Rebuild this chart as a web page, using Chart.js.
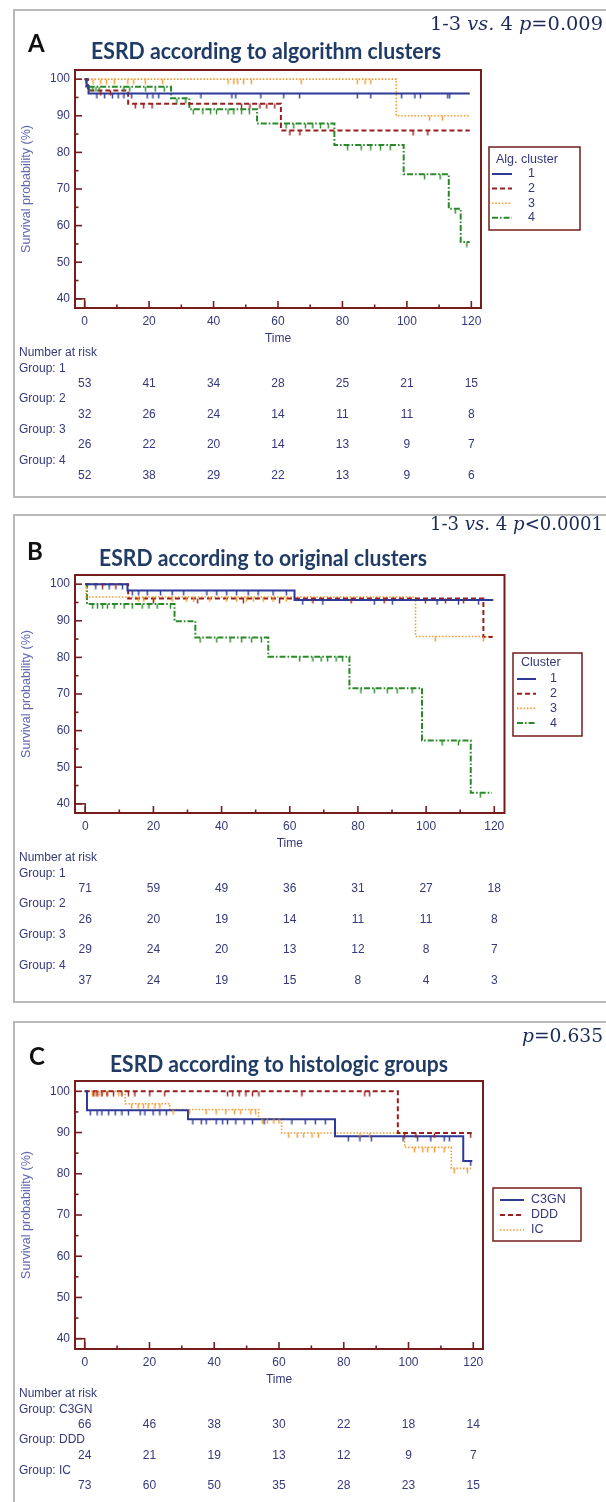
<!DOCTYPE html>
<html><head><meta charset="utf-8">
<script src="https://cdn.jsdelivr.net/npm/chart.js@4.4.1/dist/chart.umd.min.js"></script>
<style>
html,body{margin:0;padding:0;background:#fff;}
#wrap{position:relative;width:606px;height:1502px;overflow:hidden;background:#fff;}
canvas{position:absolute;left:0;}
</style></head><body>
<div id="wrap">
<canvas id="cA" width="606" height="505" style="top:0px"></canvas>
<canvas id="cB" width="606" height="507" style="top:505px"></canvas>
<canvas id="cC" width="606" height="490" style="top:1012px"></canvas>
</div>
<script>
// ---------- shared axis ticks ----------
const timeTicks = [0, 20, 40, 60, 80, 100, 120];
const timeMinor = [10, 30, 50, 70, 90, 110];
const survTicks = [40, 50, 60, 70, 80, 90, 100];
const survMinor = [45, 55, 65, 75, 85, 95];

// ---------- Panel A : algorithm clusters ----------
const aTitle = 'ESRD according to algorithm clusters';
const aP = [['1-3 ', false], ['vs.', true], [' 4 ', false], ['p', true], ['=0.009', false]];
const aLegendTitle = 'Alg. cluster';
const aGroups = ['1', '2', '3', '4'];
const a1Times = [0, 0.6, 1.2, 119.5];
const a1Surv  = [100, 98.1, 96.1, 96.1];
const a1Cens  = [3.8, 6.2, 8.6, 10.4, 12.2, 14.6, 19.4, 21.2, 23, 36.1, 45.7, 46.9, 54.7, 61.8, 66.7, 84.6, 88.8, 98.4, 102.5, 104.2, 112.7, 113.3];
const a2Times = [0, 1, 13.5, 60.9, 119.5];
const a2Surv  = [100, 96.9, 93.3, 86.0, 86.0];
const a2Cens  = [5, 8, 15.7, 18.3, 20.9, 48.7, 51.3, 54.4, 56.5, 59, 63.7, 66.8, 101.9, 106.5];
const a3Times = [0, 96.7, 119.5];
const a3Surv  = [100, 90.0, 90.0];
const a3Cens  = [2.6, 5, 6.8, 9.2, 13.4, 15.2, 18.8, 24.2, 44.5, 46.3, 47.5, 49.3, 51.7, 67.2, 84.6, 87, 88.8, 107, 111];
const a4Times = [0, 0.5, 26.8, 32.5, 53.5, 77.5, 99, 113, 116.7, 119.5];
const a4Surv  = [100, 97.9, 94.8, 91.8, 87.9, 82.0, 74.0, 64.6, 55.5, 55.5];
const a4Cens  = [1.5, 2.5, 3.5, 4.5, 12.2, 14, 18.9, 21.9, 24.7, 28.6, 31.4, 33.7, 36.7, 39.1, 40.9, 44.5, 46.3, 48.7, 51.1, 62.5, 64.9, 68.5, 70.8, 73.2, 75.6, 81.6, 85.8, 88.8, 91.8, 94.8, 105.5, 110.3, 115, 118.6];
const aRiskLabels = ['Group: 1', 'Group: 2', 'Group: 3', 'Group: 4'];
const aRisk1 = [53, 41, 34, 28, 25, 21, 15];
const aRisk2 = [32, 26, 24, 14, 11, 11, 8];
const aRisk3 = [26, 22, 20, 14, 13, 9, 7];
const aRisk4 = [52, 38, 29, 22, 13, 9, 6];

// ---------- Panel B : original clusters ----------
const bTitle = 'ESRD according to original clusters';
const bP = [['1-3 ', false], ['vs.', true], [' 4 ', false], ['p', true], ['<0.0001', false]];
const bLegendTitle = 'Cluster';
const bGroups = ['1', '2', '3', '4'];
const b1Times = [0, 12.4, 61.4, 119.7];
const b1Surv  = [100, 98.3, 95.7, 95.7];
const b1Cens  = [3.1, 7, 10.9, 13.8, 15.7, 18.2, 22.1, 25.5, 28.9, 35.7, 38.6, 41.5, 44.4, 47.8, 50.7, 55.1, 59, 63.8, 69.7, 84.8, 90.1, 103.2, 109.5, 115.4];
const b2Times = [0, 12.6, 116.8, 119.5];
const b2Surv  = [100, 96.1, 85.6, 85.6];
const b2Cens  = [5.1, 9, 20, 33, 46.4, 57, 66.8, 78, 87.7, 99.8, 105.7, 111];
const b3Times = [0, 0.3, 96.9, 119.8];
const b3Surv  = [100, 96.5, 85.7, 85.7];
const b3Cens  = [15.7, 17.2, 20.1, 25.5, 29.8, 31.8, 36.6, 41.5, 44.4, 47.3, 49.3, 52.2, 55.1, 59, 102.7, 116.8];
const b4Times = [0, 0.5, 26.2, 32.3, 53.7, 77.5, 98.8, 113.1, 119.3];
const b4Surv  = [100, 94.6, 89.9, 85.4, 80.2, 71.6, 57.3, 43.0, 43.0];
const b4Cens  = [2.2, 3.6, 5.1, 6.5, 8.5, 11.4, 13.8, 16.7, 18.7, 21.1, 25, 33.7, 38.6, 42.5, 45.9, 48.8, 51.7, 62.9, 66.8, 69.2, 71.1, 73.6, 75.5, 80.9, 84.8, 88.6, 91.5, 95.9, 104.7, 109.5, 115.9];
const bRiskLabels = ['Group: 1', 'Group: 2', 'Group: 3', 'Group: 4'];
const bRisk1 = [71, 59, 49, 36, 31, 27, 18];
const bRisk2 = [26, 20, 19, 14, 11, 11, 8];
const bRisk3 = [29, 24, 20, 13, 12, 8, 7];
const bRisk4 = [37, 24, 19, 15, 8, 4, 3];

// ---------- Panel C : histologic groups ----------
const cTitle = 'ESRD according to histologic groups';
const cP = [['p', true], ['=0.635', false]];
const cGroups = ['C3GN', 'DDD', 'IC'];
const c1Times = [0, 0.7, 31.9, 77.3, 116.9, 119.7];
const c1Surv  = [100, 95.4, 93.2, 89.1, 83.1, 83.1];
const c1Cens  = [1.7, 3.8, 5.3, 7.4, 9.4, 11.5, 13.5, 17.1, 18.6, 21.1, 23.2, 25.2, 33.4, 36, 37.5, 40.6, 42.6, 44.1, 46.7, 49.2, 51.8, 55.4, 64, 68.1, 71.2, 74.3, 81.4, 85, 88.5, 98.3, 102.8, 106.9, 111, 112.6, 119.2];
const c2Times = [0, 96.7, 119.5];
const c2Surv  = [100, 89.9, 89.9];
const c2Cens  = [2.8, 3.8, 5.3, 6.9, 8.9, 11.5, 13.5, 15.5, 20.1, 24.7, 44.1, 45.7, 47.7, 49.8, 51.8, 53.8, 67.1, 86.5, 88, 98.8, 102.3, 108, 119.2];
const c3Times = [0, 12.5, 26.3, 53.7, 60.8, 98.8, 113.2, 119.5];
const c3Surv  = [100, 97.0, 95.6, 93.3, 89.9, 86.4, 81.3, 81.3];
const c3Cens  = [2.4, 3.4, 4.4, 5.4, 6.9, 10.5, 14.5, 16.5, 18.1, 19.6, 21.7, 23.2, 27.3, 32.4, 37.5, 40.6, 43.6, 46.2, 48.2, 51.3, 52.8, 54.8, 56.4, 58.4, 60, 63, 65.6, 67.6, 70.2, 72.2, 85, 88, 101.8, 104.4, 105.9, 108, 111, 114.1, 118.2];
const cRiskLabels = ['Group: C3GN', 'Group: DDD', 'Group: IC'];
const cRisk1 = [66, 46, 38, 30, 22, 18, 14];
const cRisk2 = [24, 21, 19, 13, 12, 9, 7];
const cRisk3 = [73, 60, 50, 35, 28, 23, 15];

// ---------- styles ----------
const BLUE = '#2e3a96', RED = '#9a1e1e', ORANGE = '#f59a2e', GREEN = '#2a8a2a';
const FRAME = '#761c1c', BOXGRAY = '#b9b9b9';
const NAVY = '#35387a', AXTITLE = '#6066b4', TITLECOL = '#1f3b66', PCOL = '#1c2a5a';
const SANS = '"Liberation Sans", Arial, sans-serif';
const lineStyles = [
  {color: BLUE, width: 2, dash: []},
  {color: RED, width: 2, dash: [5, 3]},
  {color: ORANGE, width: 1.6, dash: [1.5, 1.8]},
  {color: GREEN, width: 2, dash: [6, 2, 1.6, 2]}
];

function stepAt(times, surv, t) {
  let v = surv[0];
  for (let i = 0; i < times.length; i++) if (times[i] <= t) v = surv[i];
  return v;
}
function tickImg(color) {
  const c = document.createElement('canvas');
  c.width = 3; c.height = 11;
  const g = c.getContext('2d');
  g.strokeStyle = color; g.lineWidth = 1.4;
  g.beginPath(); g.moveTo(1.5, 5.5); g.lineTo(1.5, 10.5); g.stroke();
  return c;
}

function makeChart(id, cfg) {
  const canvas = document.getElementById(id);
  const H = canvas.height;
  const datasets = [];
  cfg.series.forEach((s, i) => {
    const st = lineStyles[i];
    datasets.push({
      type: 'line', label: s.label,
      data: s.times.map((t, k) => ({x: t, y: s.surv[k]})),
      stepped: true, borderColor: st.color, borderWidth: st.width, borderDash: st.dash,
      pointRadius: 0, fill: false, tension: 0, order: 2
    });
  });
  cfg.series.forEach((s, i) => {
    const st = lineStyles[i];
    datasets.push({
      type: 'scatter', label: s.label + ' censored',
      data: s.cens.map(t => ({x: t, y: stepAt(s.times, s.surv, t)})),
      pointStyle: tickImg(st.color), pointRadius: 5, showLine: false, order: 1
    });
  });
  const xAxisH = 38.2;
  const yAxisW = 75 - 14;
  const plugin = {
    id: 'panel' + id,
    beforeDraw(chart) {
      const ctx = chart.ctx;
      ctx.save();
      ctx.fillStyle = '#fff'; ctx.fillRect(0, 0, chart.width, chart.height);
      ctx.strokeStyle = BOXGRAY; ctx.lineWidth = 2;
      ctx.strokeRect(cfg.box.x, cfg.box.y, cfg.box.w, cfg.box.h);
      ctx.restore();
    },
    afterDraw(chart) {
      const ctx = chart.ctx, a = chart.chartArea, xs = chart.scales.x, ys = chart.scales.y;
      ctx.save();
      // frame
      ctx.strokeStyle = FRAME; ctx.lineWidth = 2;
      ctx.strokeRect(a.left, a.top, a.right - a.left, a.bottom - a.top);
      // little corner box
      const x0 = xs.getPixelForValue(0), y40 = ys.getPixelForValue(40);
      ctx.lineWidth = 1.5;
      ctx.strokeRect(a.left, y40, x0 - a.left, a.bottom - y40);
      // inward ticks
      const seg = (x1, y1, x2, y2) => { ctx.beginPath(); ctx.moveTo(x1, y1); ctx.lineTo(x2, y2); ctx.stroke(); };
      ctx.lineWidth = 1.6;
      timeTicks.forEach(v => { const x = xs.getPixelForValue(v); seg(x, a.bottom, x, a.bottom - 7); });
      timeMinor.forEach(v => { const x = xs.getPixelForValue(v); seg(x, a.bottom, x, a.bottom - 3.5); });
      survTicks.forEach(v => { const y = ys.getPixelForValue(v); seg(a.left, y, a.left + 7, y); });
      survMinor.forEach(v => { const y = ys.getPixelForValue(v); seg(a.left, y, a.left + 3.5, y); });
      // panel letter
      ctx.fillStyle = '#111'; ctx.font = 'bold 24px Lato, sans-serif';
      ctx.textBaseline = 'middle'; ctx.textAlign = 'left';
      ctx.fillText(cfg.letter, cfg.letterPos.x, cfg.letterPos.y);
      // title (Calibri-like, fitted)
      ctx.font = 'bold 22px Lato, sans-serif';
      const tw = ctx.measureText(cfg.title).width;
      const sx = (cfg.titlePos.x1 - cfg.titlePos.x0) / tw;
      ctx.fillStyle = TITLECOL;
      ctx.save(); ctx.translate(cfg.titlePos.x0, cfg.titlePos.y); ctx.scale(sx, 1);
      ctx.fillText(cfg.title, 0, 0); ctx.restore();
      // p value
      const pf = (it) => (it ? 'italic ' : '') + '19px "DejaVu Serif", serif';
      let pw = 0;
      cfg.p.forEach(([t, it]) => { ctx.font = pf(it); pw += ctx.measureText(t).width; });
      const psx = (cfg.pPos.x1 - cfg.pPos.x0) / pw;
      ctx.fillStyle = PCOL;
      ctx.save(); ctx.translate(cfg.pPos.x0, cfg.pPos.y); ctx.scale(psx, 1);
      let px = 0;
      cfg.p.forEach(([t, it]) => { ctx.font = pf(it); ctx.fillText(t, px, 0); px += ctx.measureText(t).width; });
      ctx.restore();
      // legend
      const L = cfg.legend;
      ctx.strokeStyle = FRAME; ctx.lineWidth = 1.5;
      ctx.strokeRect(L.x, L.y, L.w, L.h);
      ctx.font = '12.5px ' + SANS; ctx.fillStyle = NAVY; ctx.textBaseline = 'middle';
      if (L.title) ctx.fillText(L.title, L.titleX, L.titleY);
      cfg.series.forEach((s, i) => {
        const st = lineStyles[i];
        const y = L.itemY0 + i * L.dy;
        ctx.strokeStyle = st.color; ctx.lineWidth = st.width; ctx.setLineDash(st.dash);
        seg(L.lx0, y, L.lx1, y);
        ctx.setLineDash([]);
        ctx.fillStyle = NAVY; ctx.fillText(s.label, L.tx, y);
      });
      // number at risk table
      ctx.font = '12px ' + SANS; ctx.fillStyle = NAVY;
      const y0 = a.bottom + 45, dy = 15.35;
      ctx.textAlign = 'left';
      ctx.fillText('Number at risk', 19, y0);
      cfg.risk.forEach((row, r) => {
        ctx.textAlign = 'left';
        ctx.fillText(cfg.riskLabels[r], 19, y0 + (2 * r + 1) * dy);
        ctx.textAlign = 'center';
        row.forEach((n, k) => ctx.fillText(String(n), xs.getPixelForValue(timeTicks[k]), y0 + (2 * r + 2) * dy));
      });
      ctx.restore();
    }
  };
  return new Chart(canvas, {
    type: 'line',
    data: {datasets},
    options: {
      responsive: false, animation: false, events: [],
      layout: {padding: {left: 14, top: cfg.top, right: 606 - cfg.right, bottom: H - cfg.bottom - xAxisH}},
      plugins: {legend: {display: false}, tooltip: {enabled: false}},
      scales: {
        x: {
          type: 'linear', min: -3, max: 123,
          afterBuildTicks: s => { s.ticks = timeTicks.map(v => ({value: v})); },
          afterFit: s => { s.height = xAxisH; },
          grid: {display: false, drawTicks: false}, border: {display: false},
          ticks: {padding: 6, autoSkip: false, maxRotation: 0, color: NAVY, font: {family: SANS, size: 12}},
          title: {display: true, text: 'Time', color: NAVY, padding: 0, font: {family: SANS, size: 12}}
        },
        y: {
          type: 'linear', min: 37.5, max: 102.5,
          afterBuildTicks: s => { s.ticks = survTicks.map(v => ({value: v})); },
          afterFit: s => { s.width = yAxisW; },
          grid: {display: false, drawTicks: false}, border: {display: false},
          ticks: {padding: 5, autoSkip: false, color: NAVY, font: {family: SANS, size: 12}},
          title: {display: true, text: 'Survival probability (%)', color: AXTITLE, padding: {top: 5, bottom: 0}, font: {family: SANS, size: 12.5}}
        }
      }
    },
    plugins: [plugin]
  });
}

makeChart('cA', {
  letter: 'A', title: aTitle, p: aP,
  top: 70, bottom: 308, right: 481,
  box: {x: 14, y: 10, w: 600, h: 487},
  letterPos: {x: 28, y: 44}, titlePos: {x0: 91, x1: 441, y: 52}, pPos: {x0: 430, x1: 603, y: 25},
  legend: {title: aLegendTitle, x: 489, y: 147, w: 91, h: 83, titleX: 496, titleY: 160, itemY0: 174, dy: 14.6, lx0: 492, lx1: 512, tx: 528},
  series: [
    {label: aGroups[0], times: a1Times, surv: a1Surv, cens: a1Cens},
    {label: aGroups[1], times: a2Times, surv: a2Surv, cens: a2Cens},
    {label: aGroups[2], times: a3Times, surv: a3Surv, cens: a3Cens},
    {label: aGroups[3], times: a4Times, surv: a4Surv, cens: a4Cens}
  ],
  riskLabels: aRiskLabels, risk: [aRisk1, aRisk2, aRisk3, aRisk4]
});
makeChart('cB', {
  letter: 'B', title: bTitle, p: bP,
  top: 70, bottom: 308, right: 504.5,
  box: {x: 14, y: 10, w: 600, h: 487},
  letterPos: {x: 27, y: 47}, titlePos: {x0: 99, x1: 427, y: 54}, pPos: {x0: 430, x1: 603, y: 20},
  legend: {title: bLegendTitle, x: 513, y: 148, w: 69, h: 83, titleX: 521, titleY: 158, itemY0: 174, dy: 14.7, lx0: 517, lx1: 536, tx: 550},
  series: [
    {label: bGroups[0], times: b1Times, surv: b1Surv, cens: b1Cens},
    {label: bGroups[1], times: b2Times, surv: b2Surv, cens: b2Cens},
    {label: bGroups[2], times: b3Times, surv: b3Surv, cens: b3Cens},
    {label: bGroups[3], times: b4Times, surv: b4Surv, cens: b4Cens}
  ],
  riskLabels: bRiskLabels, risk: [bRisk1, bRisk2, bRisk3, bRisk4]
});
makeChart('cC', {
  letter: 'C', title: cTitle, p: cP,
  top: 69, bottom: 337, right: 483,
  box: {x: 14, y: 10, w: 600, h: 520},
  letterPos: {x: 29, y: 45}, titlePos: {x0: 110, x1: 448, y: 53}, pPos: {x0: 522, x1: 603, y: 25},
  legend: {title: null, x: 493, y: 176, w: 88, h: 53, itemY0: 188, dy: 15, lx0: 500, lx1: 524, tx: 531},
  series: [
    {label: cGroups[0], times: c1Times, surv: c1Surv, cens: c1Cens},
    {label: cGroups[1], times: c2Times, surv: c2Surv, cens: c2Cens},
    {label: cGroups[2], times: c3Times, surv: c3Surv, cens: c3Cens}
  ],
  riskLabels: cRiskLabels, risk: [cRisk1, cRisk2, cRisk3]
});
</script>
</body></html>
